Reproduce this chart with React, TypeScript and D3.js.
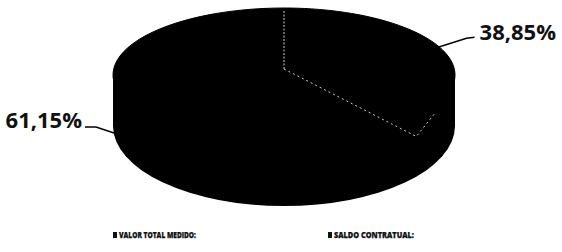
import { useEffect, useRef } from "react";
import * as d3 from "d3";

const categories = ["VALOR TOTAL MEDIDO:", "SALDO CONTRATUAL:"];
const values = [38.85, 61.15];
const pctLabels = ["38,85%", "61,15%"];

const width = 562;
const height = 252;

export default function App() {
  const svgRef = useRef<SVGSVGElement>(null);

  useEffect(() => {
    if (!svgRef.current) return;
    const svg = d3.select(svgRef.current);
    svg.selectAll("*").remove();

    const cx = 284;
    const rx = 171;
    const topY = 75;
    const topRy = 67;
    const botY = 126;
    const botRy = 80;

    // point on the top face ellipse for a pie angle (0 = 12 o'clock, clockwise)
    const pt = (a: number, k = 1): [number, number] => [
      cx + rx * k * Math.sin(a),
      topY - topRy * k * Math.cos(a),
    ];

    const arcs = d3
      .pie<number>()
      .sort(null)
      .value((d) => d)(values);

    const g = svg.append("g");

    // body: bottom ellipse + side + top face
    g.append("ellipse")
      .attr("cx", cx)
      .attr("cy", botY)
      .attr("rx", rx)
      .attr("ry", botRy)
      .attr("fill", "#000");
    g.append("rect")
      .attr("x", cx - rx)
      .attr("y", topY)
      .attr("width", rx * 2)
      .attr("height", botY - topY)
      .attr("fill", "#000");

    const line = d3.line<[number, number]>();
    const sliceSteps = 60;
    arcs.forEach((a) => {
      const pts: [number, number][] = [[cx, topY]];
      for (let i = 0; i <= sliceSteps; i++) {
        const t = a.startAngle + ((a.endAngle - a.startAngle) * i) / sliceSteps;
        pts.push(pt(t));
      }
      g.append("path")
        .attr("d", line(pts) + "Z")
        .attr("fill", "#000")
        .attr("stroke", "#000");
    });

    // faint dashed slice borders
    const s0 = arcs[0];
    g.append("path")
      .attr("d", line([[cx, topY - 6], [cx, topY - topRy + 3]]))
      .attr("fill", "none")
      .attr("stroke", "#fff")
      .attr("stroke-width", 1)
      .attr("stroke-dasharray", "2 1.5")
      .attr("opacity", 0.8);
    g.append("path")
      .attr(
        "d",
        line([[cx, topY - 6], pt(s0.endAngle, 1.2), pt(s0.endAngle - 0.3, 1.05)])
      )
      .attr("fill", "none")
      .attr("stroke", "#fff")
      .attr("stroke-width", 1)
      .attr("stroke-dasharray", "2 3")
      .attr("opacity", 0.8);

    // labels with leader lines
    const mid0 = (arcs[0].startAngle + arcs[0].endAngle) / 2;
    const a0 = pt(mid0, 0.9);
    const lead0: [number, number][] = [
      [a0[0], a0[1] - 4],
      [a0[0] + 38, a0[1] - 16],
      [a0[0] + 46, a0[1] - 17],
    ];
    g.append("path")
      .attr("d", line(lead0))
      .attr("fill", "none")
      .attr("stroke", "#000")
      .attr("stroke-width", 1.5);
    g.append("text")
      .attr("x", lead0[2][0] + 5)
      .attr("y", lead0[2][1] + 3)
      .attr("font-family", "'Open Sans', sans-serif")
      .attr("font-weight", 700)
      .attr("font-size", 22)
      .attr("fill", "#111")
      .text(pctLabels[0]);

    const a1 = [cx - rx, 133];
    const lead1: [number, number][] = [
      [a1[0] + 1, a1[1]],
      [a1[0] - 17, a1[1] - 6],
      [a1[0] - 28, a1[1] - 6],
    ];
    g.append("path")
      .attr("d", line(lead1))
      .attr("fill", "none")
      .attr("stroke", "#000")
      .attr("stroke-width", 1.5);
    g.append("text")
      .attr("x", lead1[2][0] - 3)
      .attr("y", lead1[2][1] + 1)
      .attr("text-anchor", "end")
      .attr("font-family", "'Open Sans', sans-serif")
      .attr("font-weight", 700)
      .attr("font-size", 22)
      .attr("fill", "#111")
      .text(pctLabels[1]);

    // legend
    const legendX = d3.scalePoint<string>().domain(categories).range([113, 328]);
    const legendW = [77, 80];
    const lg = g
      .selectAll("g.legend")
      .data(categories)
      .join("g")
      .attr("class", "legend")
      .attr("transform", (d) => `translate(${legendX(d)},232)`);
    lg.append("rect")
      .attr("width", 4)
      .attr("height", 6)
      .attr("fill", "#111");
    lg.append("text")
      .attr("x", 6)
      .attr("y", 6)
      .attr("font-family", "'Open Sans', sans-serif")
      .attr("font-weight", 800)
      .attr("font-size", 8)
      .attr("fill", "#111")
      .attr("stroke", "#111")
      .attr("stroke-width", 0.25)
      .attr("textLength", (_, i) => legendW[i])
      .attr("lengthAdjust", "spacingAndGlyphs")
      .text((d) => d);
  }, []);

  return (
    <svg
      ref={svgRef}
      width={width}
      height={height}
      style={{ position: "absolute", left: 0, top: 0, background: "#fff" }}
    />
  );
}
